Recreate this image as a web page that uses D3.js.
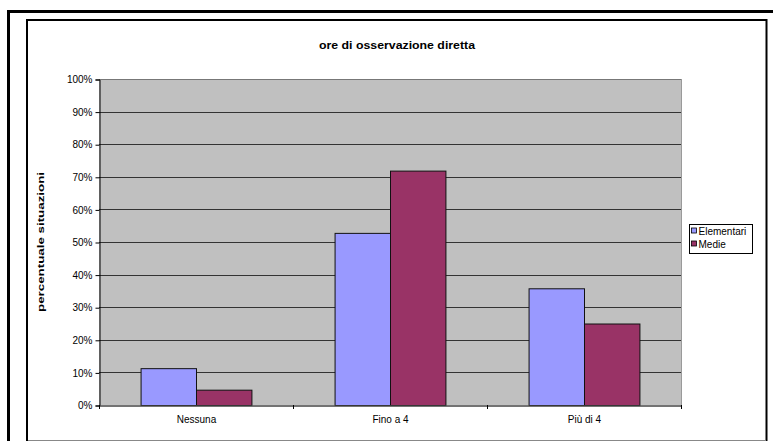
<!DOCTYPE html>
<html>
<head>
<meta charset="utf-8">
<script src="https://cdn.jsdelivr.net/npm/d3@7"></script>
<style>
  html, body { margin: 0; padding: 0; background: #fff; }
  svg { display: block; font-family: "Liberation Sans", Arial, sans-serif; }
</style>
</head>
<body>
<svg id="chart" width="773" height="441"></svg>
<script>
// Data
const categories = ["Nessuna", "Fino a 4", "Più di 4"];
const seriesNames = ["Elementari", "Medie"];
const elementari = [11.3, 52.8, 35.8];
const medie = [4.7, 71.9, 25.0];
const yTicks = [0, 10, 20, 30, 40, 50, 60, 70, 80, 90, 100];
const colors = ["#9999FF", "#993366"];

const svg = d3.select("#chart");

// Frames
svg.append("rect").attr("x", 8.5).attr("y", 11.5).attr("width", 800).attr("height", 500)
  .attr("fill", "none").attr("stroke", "#000").attr("stroke-width", 3);
svg.append("rect").attr("x", 27).attr("y", 20).attr("width", 739.5).attr("height", 440)
  .attr("fill", "#fff").attr("stroke", "#000").attr("stroke-width", 2);
svg.append("line").attr("x1", 28).attr("x2", 766).attr("y1", 440.5).attr("y2", 440.5)
  .attr("stroke", "#888");

// Plot area
const plot = { left: 99, right: 681, top: 79, bottom: 405 };

const x0 = d3.scaleBand().domain(categories).range([plot.left, plot.right]).paddingInner(0).paddingOuter(0);
// Excel style gap width 150%: two bars fill 2/3.5 of each category
const x1 = d3.scaleBand().domain(seriesNames).range([0, x0.bandwidth() * 2 / 3.5]).padding(0);
const y = d3.scaleLinear().domain([0, 100]).range([plot.bottom, plot.top]);

svg.append("rect").attr("x", plot.left).attr("y", plot.top)
  .attr("width", plot.right - plot.left).attr("height", plot.bottom - plot.top)
  .attr("fill", "#C0C0C0");

// Gridlines
svg.append("g").selectAll("line").data(yTicks.filter(d => d > 0)).join("line")
  .attr("x1", plot.left).attr("x2", plot.right)
  .attr("y1", d => Math.round(y(d)) + 0.5).attr("y2", d => Math.round(y(d)) + 0.5)
  .attr("stroke", d => d === 100 ? "#777" : "#333").attr("stroke-width", 1);

// Right edge of plot
svg.append("line").attr("x1", plot.right + 0.5).attr("x2", plot.right + 0.5)
  .attr("y1", plot.top).attr("y2", plot.bottom).attr("stroke", "#9a9a9a");

// Bars
const rows = categories.map((c, i) => ({ cat: c, vals: [elementari[i], medie[i]] }));
const barOffset = (x0.bandwidth() - x1.range()[1]) / 2;
const groups = svg.append("g").selectAll("g").data(rows).join("g")
  .attr("transform", d => `translate(${x0(d.cat) + barOffset},0)`);
groups.selectAll("rect").data(d => d.vals.map((v, j) => ({ name: seriesNames[j], v, j }))).join("rect")
  .attr("x", d => x1(d.name) + 0.5)
  .attr("y", d => y(d.v) + 0.5)
  .attr("width", x1.bandwidth())
  .attr("height", d => y(0) - y(d.v))
  .attr("fill", d => colors[d.j])
  .attr("stroke", "#111").attr("stroke-width", 1);

// Y axis
const yAxis = d3.axisLeft(y).tickValues(yTicks).tickFormat(d => d + "%").tickSize(4).tickPadding(3);
const gy = svg.append("g").attr("transform", `translate(${plot.left + 0.5},0.5)`).call(yAxis);
gy.select(".domain").attr("stroke", "#000");
gy.selectAll(".tick line").attr("stroke", "#000");
gy.selectAll("text").attr("font-size", 10).attr("fill", "#000")
  .attr("font-family", "'Liberation Sans', Arial, sans-serif");

// X axis
const gx = svg.append("g").attr("transform", `translate(0.5,${plot.bottom + 0.5})`)
  .call(d3.axisBottom(x0).tickSize(0).tickPadding(10));
gx.select(".domain").attr("stroke", "#444").attr("stroke-width", 1.5);
gx.selectAll("text").attr("font-size", 10).attr("fill", "#000")
  .attr("font-family", "'Liberation Sans', Arial, sans-serif");
// category boundary ticks
svg.append("g").selectAll("line").data(d3.range(categories.length + 1)).join("line")
  .attr("x1", i => plot.left + i * x0.step() + 0.5).attr("x2", i => plot.left + i * x0.step() + 0.5)
  .attr("y1", plot.bottom).attr("y2", plot.bottom + 4)
  .attr("stroke", "#000");

// Title
svg.append("text").attr("x", 397).attr("y", 49).attr("text-anchor", "middle")
  .attr("font-size", 11.5).attr("font-weight", "bold")
  .attr("textLength", 156).attr("lengthAdjust", "spacingAndGlyphs")
  .text("ore di osservazione diretta");

// Y axis title
svg.append("text").attr("transform", `translate(44,${(plot.top + plot.bottom) / 2}) rotate(-90)`)
  .attr("text-anchor", "middle").attr("font-size", 9.5).attr("font-weight", "bold")
  .attr("textLength", 140).attr("lengthAdjust", "spacingAndGlyphs")
  .text("percentuale situazioni");

// Legend
const lg = svg.append("g").attr("transform", "translate(689.5,224.5)");
lg.append("rect").attr("width", 63).attr("height", 29).attr("fill", "#fff").attr("stroke", "#000");
seriesNames.forEach((n, i) => {
  lg.append("rect").attr("x", 2).attr("y", 7 + i * 13 - 3.5).attr("width", 5).attr("height", 5)
    .attr("fill", colors[i]).attr("stroke", "#000").attr("stroke-width", 0.8);
  lg.append("text").attr("x", 9).attr("y", 7 + i * 13 + 3.5).attr("font-size", 10).text(n);
});
</script>
</body>
</html>
